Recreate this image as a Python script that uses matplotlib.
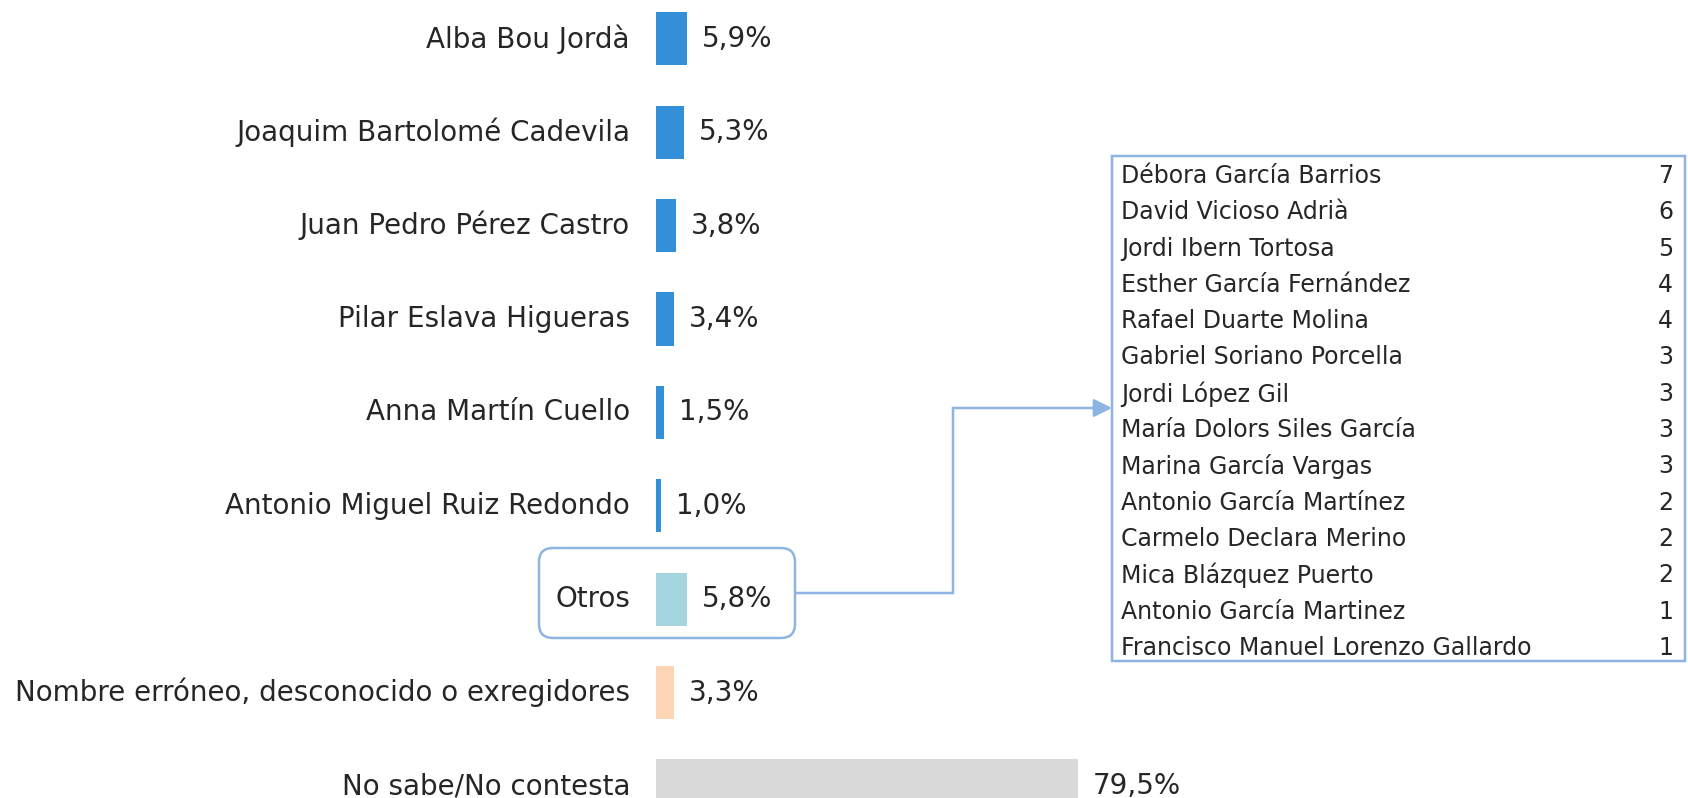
import matplotlib
matplotlib.use("Agg")
import matplotlib.pyplot as plt
from matplotlib.patches import FancyBboxPatch, Rectangle

plt.rcParams['font.family'] = ['DejaVu Sans']

# Respuestas principales (% sobre el total)
categorias = [
    "Alba Bou Jordà",
    "Joaquim Bartolomé Cadevila",
    "Juan Pedro Pérez Castro",
    "Pilar Eslava Higueras",
    "Anna Martín Cuello",
    "Antonio Miguel Ruiz Redondo",
    "Otros",
    "Nombre erróneo, desconocido o exregidores",
    "No sabe/No contesta",
]
porcentajes = [5.9, 5.3, 3.8, 3.4, 1.5, 1.0, 5.8, 3.3, 79.5]
colores = ["#338FD8"] * 6 + ["#A5D6E0", "#FDD5B4", "#D9D9D9"]

# Desglose de "Otros" (número de menciones)
otros_nombres = [
    "Débora García Barrios",
    "David Vicioso Adrià",
    "Jordi Ibern Tortosa",
    "Esther García Fernández",
    "Rafael Duarte Molina",
    "Gabriel Soriano Porcella",
    "Jordi López Gil",
    "María Dolors Siles García",
    "Marina García Vargas",
    "Antonio García Martínez",
    "Carmelo Declara Merino",
    "Mica Blázquez Puerto",
    "Antonio García Martinez",
    "Francisco Manuel Lorenzo Gallardo",
]
otros_menciones = [7, 6, 5, 4, 4, 3, 3, 3, 3, 2, 2, 2, 1, 1]

W, H = 1688, 798
TXT = "#262626"
LINEA = "#8DB4E2"
px = 72 / 100  # points per pixel at dpi 100

fig = plt.figure(figsize=(W / 100, H / 100), dpi=100)

# Eje de barras: 0 % en x=656 px, 5,31 px por punto porcentual
x0, px_pct = 656, 5.31
fila0, paso = 38.8, 93.4
ax = fig.add_axes([x0 / W, 0, (W - x0) / W, 1])
ax.set_xlim(0, (W - x0) / px_pct)
ax.set_ylim((H - fila0) / paso, -fila0 / paso)
ax.axis("off")

ys = list(range(len(categorias)))
ax.barh(ys, porcentajes, height=0.57, color=colores, edgecolor="none")

for y, cat, val in zip(ys, categorias, porcentajes):
    ax.annotate(cat, xy=(0, y), xytext=(-26 * px, 0), textcoords="offset points",
                ha="right", va="center", fontsize=20, color=TXT)
    ax.annotate(f"{val:.1f}%".replace(".", ","), xy=(val, y), xytext=(15 * px, 0),
                textcoords="offset points", ha="left", va="center",
                fontsize=20, color=TXT)

# Capa en píxeles para el recuadro, la flecha y la tabla
ov = fig.add_axes([0, 0, 1, 1])
ov.set_xlim(0, W)
ov.set_ylim(H, 0)
ov.axis("off")
ov.patch.set_alpha(0)

y_otros = 593
ov.add_patch(FancyBboxPatch((539, y_otros - 45), 256, 90,
                            boxstyle="round,pad=0,rounding_size=14",
                            fill=False, edgecolor=LINEA, linewidth=2.5 * px))

tab_x0, tab_x1, tab_y0, tab_y1 = 1112, 1685, 156, 661
y_flecha = 408
ov.plot([795, 953, 953, tab_x0 - 14], [y_otros, y_otros, y_flecha, y_flecha],
        color=LINEA, linewidth=2.5 * px, solid_capstyle="butt", solid_joinstyle="miter")
ov.annotate("", xy=(tab_x0, y_flecha), xytext=(tab_x0 - 16, y_flecha),
            arrowprops=dict(arrowstyle="-|>,head_length=1.1,head_width=0.55",
                            color=LINEA, lw=2.5 * px, shrinkA=0, shrinkB=0))

ov.add_patch(Rectangle((tab_x0, tab_y0), tab_x1 - tab_x0, tab_y1 - tab_y0,
                       fill=False, edgecolor=LINEA, linewidth=2.5 * px))

fila_t0, paso_t = 176, 36.3
for i, (nombre, n) in enumerate(zip(otros_nombres, otros_menciones)):
    yy = fila_t0 + paso_t * i
    ov.text(1121, yy, nombre, ha="left", va="center", fontsize=17, color=TXT)
    ov.text(1673, yy, str(n), ha="right", va="center", fontsize=17, color=TXT)

fig.savefig("out.png", dpi=100, facecolor="white")
